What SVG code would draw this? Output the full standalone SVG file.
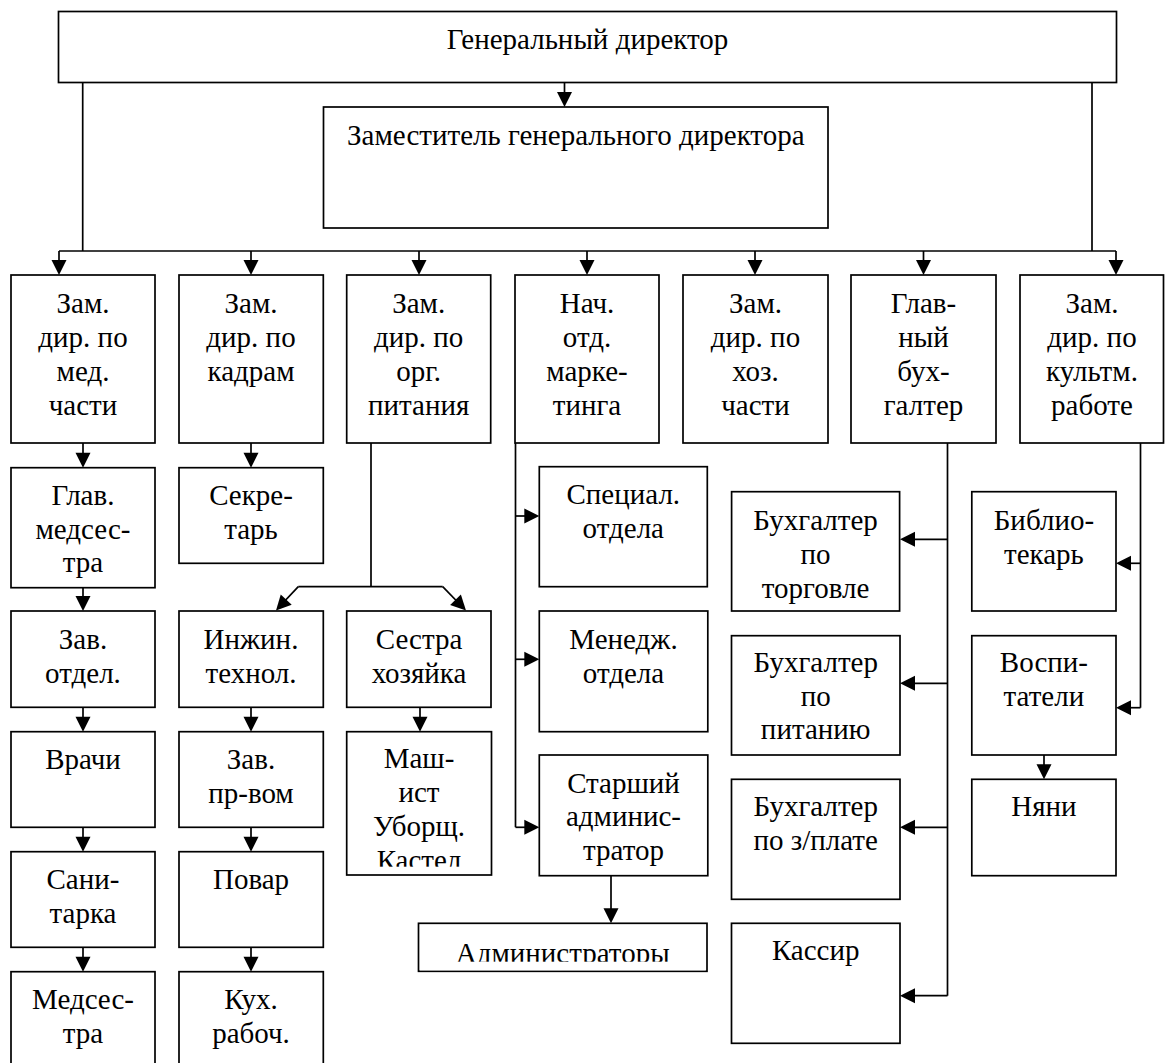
<svg xmlns="http://www.w3.org/2000/svg" width="1165" height="1063" viewBox="0 0 1165 1063">
<style>
.b{fill:#fff;stroke:#000;stroke-width:1.7}
.t{font-family:"Liberation Serif",serif;font-size:29px;fill:#000;text-anchor:middle}
.c{fill:none;stroke:#000;stroke-width:1.7}
.h{fill:#000;stroke:none}
.w{fill:#fff;stroke:none}
</style>
<defs>
<path id="ah" class="h" d="M0,0 L-15,-7.5 L-15,7.5 z"/>
</defs>
<rect x="0" y="0" width="1165" height="1063" fill="#fff"/>

<g id="connectors">
<line class="c" x1="564.5" y1="82.5" x2="564.5" y2="100"/><use href="#ah" transform="translate(564.5,107) rotate(90)"/>
<polyline class="c" points="82.7,82.5 82.7,251"/>
<polyline class="c" points="1092,82.5 1092,251"/>
<line class="c" x1="59" y1="251" x2="1116" y2="251"/>
<line class="c" x1="59" y1="251" x2="59" y2="268"/><use href="#ah" transform="translate(59,275) rotate(90)"/>
<line class="c" x1="251" y1="251" x2="251" y2="268"/><use href="#ah" transform="translate(251,275) rotate(90)"/>
<line class="c" x1="419" y1="251" x2="419" y2="268"/><use href="#ah" transform="translate(419,275) rotate(90)"/>
<line class="c" x1="587" y1="251" x2="587" y2="268"/><use href="#ah" transform="translate(587,275) rotate(90)"/>
<line class="c" x1="755" y1="251" x2="755" y2="268"/><use href="#ah" transform="translate(755,275) rotate(90)"/>
<line class="c" x1="923.5" y1="251" x2="923.5" y2="268"/><use href="#ah" transform="translate(923.5,275) rotate(90)"/>
<line class="c" x1="1116" y1="251" x2="1116" y2="268"/><use href="#ah" transform="translate(1116,275) rotate(90)"/>
<line class="c" x1="83" y1="443" x2="83" y2="461"/><use href="#ah" transform="translate(83,467.7) rotate(90)"/>
<line class="c" x1="83" y1="587.7" x2="83" y2="604"/><use href="#ah" transform="translate(83,611) rotate(90)"/>
<line class="c" x1="83" y1="707.3" x2="83" y2="725"/><use href="#ah" transform="translate(83,731.7) rotate(90)"/>
<line class="c" x1="83" y1="827.3" x2="83" y2="845"/><use href="#ah" transform="translate(83,851.7) rotate(90)"/>
<line class="c" x1="83" y1="947.3" x2="83" y2="965"/><use href="#ah" transform="translate(83,971.7) rotate(90)"/>
<line class="c" x1="251" y1="443" x2="251" y2="461"/><use href="#ah" transform="translate(251,467.7) rotate(90)"/>
<line class="c" x1="251" y1="707.3" x2="251" y2="725"/><use href="#ah" transform="translate(251,731.7) rotate(90)"/>
<line class="c" x1="251" y1="827.3" x2="251" y2="845"/><use href="#ah" transform="translate(251,851.7) rotate(90)"/>
<line class="c" x1="251" y1="947.3" x2="251" y2="965"/><use href="#ah" transform="translate(251,971.7) rotate(90)"/>
<polyline class="c" points="371,443 371,586.7"/>
<line class="c" x1="298.3" y1="586.7" x2="442.7" y2="586.7"/>
<line class="c" x1="298.3" y1="586.7" x2="281" y2="605"/><use href="#ah" transform="translate(276,610.5) rotate(133)"/>
<line class="c" x1="442.7" y1="586.7" x2="461" y2="605.5"/><use href="#ah" transform="translate(466,610.5) rotate(45.6)"/>
<line class="c" x1="420" y1="707.3" x2="420" y2="725"/><use href="#ah" transform="translate(420,731.7) rotate(90)"/>
<polyline class="c" points="515.5,443 515.5,827.3"/>
<line class="c" x1="515.5" y1="516" x2="533" y2="516"/><use href="#ah" transform="translate(539.3,516)"/>
<line class="c" x1="515.5" y1="659.3" x2="533" y2="659.3"/><use href="#ah" transform="translate(539.3,659.3)"/>
<line class="c" x1="515.5" y1="827.3" x2="533" y2="827.3"/><use href="#ah" transform="translate(539.3,827.3)"/>
<line class="c" x1="611" y1="875.7" x2="611" y2="916"/><use href="#ah" transform="translate(611,923.3) rotate(90)"/>
<polyline class="c" points="947.5,443 947.5,995.7"/>
<line class="c" x1="947.5" y1="539.3" x2="906" y2="539.3"/><use href="#ah" transform="translate(900,539.3) rotate(180)"/>
<line class="c" x1="947.5" y1="683.3" x2="906" y2="683.3"/><use href="#ah" transform="translate(900,683.3) rotate(180)"/>
<line class="c" x1="947.5" y1="827.3" x2="906" y2="827.3"/><use href="#ah" transform="translate(900,827.3) rotate(180)"/>
<line class="c" x1="947.5" y1="995.7" x2="906" y2="995.7"/><use href="#ah" transform="translate(900,995.7) rotate(180)"/>
<polyline class="c" points="1140.5,443 1140.5,707.7"/>
<line class="c" x1="1140.5" y1="563.3" x2="1122" y2="563.3"/><use href="#ah" transform="translate(1116,563.3) rotate(180)"/>
<line class="c" x1="1140.5" y1="707.7" x2="1122" y2="707.7"/><use href="#ah" transform="translate(1116,707.7) rotate(180)"/>
<line class="c" x1="1044" y1="755" x2="1044" y2="773"/><use href="#ah" transform="translate(1044,779.3) rotate(90)"/>
</g>

<g id="gen-dir"><rect class="b" x="58.5" y="11.5" width="1058" height="71"/><text class="t" font-family="Liberation Serif" x="587.5" y="49.3">Генеральный директор</text></g>
<g id="zam-gen"><rect class="b" x="323.5" y="107" width="504.5" height="121"/><text class="t" font-family="Liberation Serif" x="575.8" y="145">Заместитель генерального директора</text></g>

<g id="zam-med"><rect class="b" x="11" y="275" width="144" height="168"/><text class="t" font-family="Liberation Serif" x="83" y="312.7">Зам.<tspan x="83" dy="34">дир. по</tspan><tspan x="83" dy="34">мед.</tspan><tspan x="83" dy="34">части</tspan></text></g>
<g id="zam-kadr"><rect class="b" x="179" y="275" width="144.3" height="168"/><text class="t" font-family="Liberation Serif" x="251" y="312.7">Зам.<tspan x="251" dy="34">дир. по</tspan><tspan x="251" dy="34">кадрам</tspan></text></g>
<g id="zam-pit"><rect class="b" x="346.7" y="275" width="144" height="168"/><text class="t" font-family="Liberation Serif" x="418.7" y="312.7">Зам.<tspan x="418.7" dy="34">дир. по</tspan><tspan x="418.7" dy="34">орг.</tspan><tspan x="418.7" dy="34">питания</tspan></text></g>
<g id="nach-mark"><rect class="b" x="515" y="275" width="144" height="168"/><text class="t" font-family="Liberation Serif" x="587" y="312.7">Нач.<tspan x="587" dy="34">отд.</tspan><tspan x="587" dy="34">марке-</tspan><tspan x="587" dy="34">тинга</tspan></text></g>
<g id="zam-hoz"><rect class="b" x="683" y="275" width="145" height="168"/><text class="t" font-family="Liberation Serif" x="755.5" y="312.7">Зам.<tspan x="755.5" dy="34">дир. по</tspan><tspan x="755.5" dy="34">хоз.</tspan><tspan x="755.5" dy="34">части</tspan></text></g>
<g id="glav-buh"><rect class="b" x="851" y="275" width="145" height="168"/><text class="t" font-family="Liberation Serif" x="923.5" y="312.7">Глав-<tspan x="923.5" dy="34">ный</tspan><tspan x="923.5" dy="34">бух-</tspan><tspan x="923.5" dy="34">галтер</tspan></text></g>
<g id="zam-kult"><rect class="b" x="1020" y="275" width="143.5" height="168"/><text class="t" font-family="Liberation Serif" x="1092" y="312.7">Зам.<tspan x="1092" dy="34">дир. по</tspan><tspan x="1092" dy="34">культм.</tspan><tspan x="1092" dy="34">работе</tspan></text></g>

<g id="glav-medsestra"><rect class="b" x="11" y="467.7" width="144" height="120"/><text class="t" font-family="Liberation Serif" x="83" y="505">Глав.<tspan x="83" dy="33.5">медсес-</tspan><tspan x="83" dy="33.5">тра</tspan></text></g>
<g id="zav-otdel"><rect class="b" x="11" y="611" width="144" height="96.3"/><text class="t" font-family="Liberation Serif" x="83" y="649">Зав.<tspan x="83" dy="34">отдел.</tspan></text></g>
<g id="vrachi"><rect class="b" x="11" y="731.7" width="144" height="95.6"/><text class="t" font-family="Liberation Serif" x="83" y="769">Врачи</text></g>
<g id="sanitarka"><rect class="b" x="11" y="851.7" width="144" height="95.6"/><text class="t" font-family="Liberation Serif" x="83" y="888.5">Сани-<tspan x="83" dy="34">тарка</tspan></text></g>
<g id="medsestra"><rect class="b" x="11" y="971.7" width="144" height="100"/><text class="t" font-family="Liberation Serif" x="83" y="1008.5">Медсес-<tspan x="83" dy="34">тра</tspan></text></g>

<g id="sekretar"><rect class="b" x="179" y="467.7" width="144.3" height="95.6"/><text class="t" font-family="Liberation Serif" x="251" y="505">Секре-<tspan x="251" dy="33.5">тарь</tspan></text></g>
<g id="inzh-tehnol"><rect class="b" x="179" y="611" width="144.3" height="96.3"/><text class="t" font-family="Liberation Serif" x="251" y="649">Инжин.<tspan x="251" dy="34">технол.</tspan></text></g>
<g id="zav-prvom"><rect class="b" x="179" y="731.7" width="144.3" height="95.6"/><text class="t" font-family="Liberation Serif" x="251" y="768.5">Зав.<tspan x="251" dy="34">пр-вом</tspan></text></g>
<g id="povar"><rect class="b" x="179" y="851.7" width="144.3" height="95.6"/><text class="t" font-family="Liberation Serif" x="251" y="888.5">Повар</text></g>
<g id="kuh-rab"><rect class="b" x="179" y="971.7" width="144.3" height="100"/><text class="t" font-family="Liberation Serif" x="251" y="1008.5">Кух.<tspan x="251" dy="34">рабоч.</tspan></text></g>

<g id="sestra-hoz"><rect class="b" x="346.7" y="611" width="144.3" height="96.3"/><text class="t" font-family="Liberation Serif" x="419" y="649">Сестра<tspan x="419" dy="34">хозяйка</tspan></text></g>
<g id="mashinist"><rect class="b" x="346.7" y="731.7" width="144.8" height="143.3"/><text class="t" font-family="Liberation Serif" x="419" y="768.3">Маш-<tspan x="419" dy="34">ист</tspan><tspan x="419" dy="34">Уборщ.</tspan><tspan x="419" dy="34">Кастел</tspan></text><rect class="w" x="348" y="866.7" width="142" height="7"/></g>

<g id="spec-otdela"><rect class="b" x="539.3" y="466.7" width="168" height="120"/><text class="t" font-family="Liberation Serif" x="623.3" y="504.3">Специал.<tspan x="623.3" dy="34">отдела</tspan></text></g>
<g id="menedzh"><rect class="b" x="539.3" y="611" width="168.5" height="120.7"/><text class="t" font-family="Liberation Serif" x="623.5" y="648.5">Менедж.<tspan x="623.5" dy="34">отдела</tspan></text></g>
<g id="starsh-adm"><rect class="b" x="539.3" y="755" width="168.5" height="120.7"/><text class="t" font-family="Liberation Serif" x="623.5" y="792.7">Старший<tspan x="623.5" dy="33.5">админис-</tspan><tspan x="623.5" dy="33.5">тратор</tspan></text></g>
<g id="administratory"><rect class="b" x="418.5" y="923.3" width="288.5" height="48"/><text class="t" font-family="Liberation Serif" x="562.7" y="963">Администраторы</text><rect class="w" x="420" y="961.7" width="285.5" height="8.6"/></g>

<g id="buh-torg"><rect class="b" x="731.6" y="491.7" width="168" height="119.3"/><text class="t" font-family="Liberation Serif" x="815.6" y="529.5">Бухгалтер<tspan x="815.6" dy="34">по</tspan><tspan x="815.6" dy="34">торговле</tspan></text></g>
<g id="buh-pit"><rect class="b" x="731.5" y="635.7" width="168.5" height="119.3"/><text class="t" font-family="Liberation Serif" x="815.7" y="672">Бухгалтер<tspan x="815.7" dy="33.5">по</tspan><tspan x="815.7" dy="33.5">питанию</tspan></text></g>
<g id="buh-zpl"><rect class="b" x="731.5" y="779.3" width="168.5" height="120"/><text class="t" font-family="Liberation Serif" x="815.7" y="815.5">Бухгалтер<tspan x="815.7" dy="34">по з/плате</tspan></text></g>
<g id="kassir"><rect class="b" x="731.5" y="923.3" width="168.5" height="120"/><text class="t" font-family="Liberation Serif" x="815.7" y="959.5">Кассир</text></g>

<g id="bibliotekar"><rect class="b" x="971.8" y="491.7" width="144.2" height="119.3"/><text class="t" font-family="Liberation Serif" x="1043.9" y="530">Библио-<tspan x="1043.9" dy="33.5">текарь</tspan></text></g>
<g id="vospitateli"><rect class="b" x="971.8" y="635.7" width="144.2" height="119.3"/><text class="t" font-family="Liberation Serif" x="1043.9" y="672">Воспи-<tspan x="1043.9" dy="34">татели</tspan></text></g>
<g id="nyani"><rect class="b" x="971.8" y="779.3" width="144.2" height="96.4"/><text class="t" font-family="Liberation Serif" x="1043.9" y="816">Няни</text></g>
</svg>
